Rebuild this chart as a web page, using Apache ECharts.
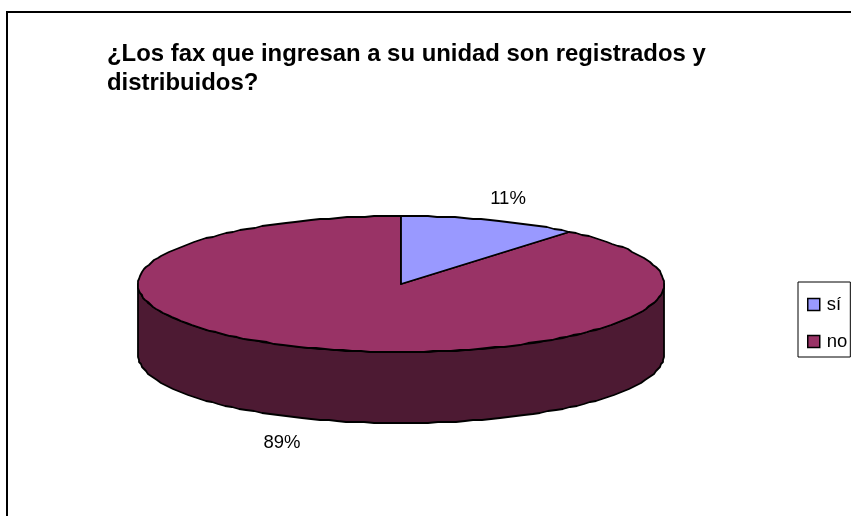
<!DOCTYPE html>
<html>
<head>
<meta charset="utf-8">
<style>html,body{margin:0;padding:0;background:#fff}#chart{width:851px;height:516px}</style>
<script src="https://cdn.jsdelivr.net/npm/echarts@6/dist/echarts.min.js"></script>
</head>
<body>
<div id="chart"></div>
<script>
const categories = ['sí', 'no'];
const shares = [11, 89];
const topColors = ['#9999ff', '#993366'];
const wallColors = ['#4d4d80', '#4d1a33'];
const chartTitle = '¿Los fax que ingresan a su unidad son registrados y\ndistribuidos?';

// Tilted disc drawn as an ellipse with a lower wall
const cx = 401, cy = 284, rx = 263, ry = 68, depth = 71;
const FONT = '"Liberation Sans", Arial, sans-serif';
const labelAnchors = [[508, 199], [282, 443]];
const total = shares.reduce((a, b) => a + b, 0);

// Rim vertices snap to whole pixels, which gives the outline its faceted look
function rimPoint(deg, drop) {
  const t = deg * Math.PI / 180;
  return [Math.round(cx + rx * Math.sin(t)), Math.round(cy - ry * Math.cos(t) + drop)];
}

function arc(from, to, drop) {
  const pts = [];
  const n = Math.max(2, Math.ceil(Math.abs(to - from) / 2));
  for (let i = 0; i <= n; i++) pts.push(rimPoint(from + (to - from) * i / n, drop));
  return pts;
}

function renderSlice(index, params, api) {
  const value = api.value(0);
  const before = shares.slice(0, index).reduce((a, b) => a + b, 0);
  const start = before / total * 360;
  const end = start + value / total * 360;
  const line = { stroke: '#000', lineWidth: 1.8, lineJoin: 'round' };
  const children = [];

  // Only the part of the rim facing the viewer (90 to 270 degrees) shows a wall
  const wallFrom = Math.max(start, 90), wallTo = Math.min(end, 270);
  if (wallTo > wallFrom) {
    children.push({
      type: 'polygon',
      shape: { points: arc(wallFrom, wallTo, 0).concat(arc(wallTo, wallFrom, depth)) },
      style: Object.assign({ fill: wallColors[index] }, line)
    });
  }
  children.push({
    type: 'polygon',
    shape: { points: [[cx, cy]].concat(arc(start, end, 0)) },
    style: Object.assign({ fill: topColors[index] }, line)
  });
  children.push({
    type: 'text',
    style: {
      x: labelAnchors[index][0], y: labelAnchors[index][1],
      text: Math.round(value / total * 100) + '%',
      fill: '#000', font: '18.5px ' + FONT, align: 'center', verticalAlign: 'middle'
    }
  });
  return { type: 'group', children };
}

const chart = echarts.init(document.getElementById('chart'), null, { renderer: 'canvas' });
chart.setOption({
  animation: false,
  backgroundColor: '#fff',
  title: {
    text: chartTitle,
    left: 107, top: 40, padding: 0,
    textStyle: { fontFamily: FONT, fontSize: 23.9, fontWeight: 'bold', color: '#000', lineHeight: 29 }
  },
  legend: {
    orient: 'vertical',
    left: 798, top: 282, padding: [13, 3, 6, 9],
    itemWidth: 12, itemHeight: 12, itemGap: 18,
    borderColor: '#000', borderWidth: 1,
    icon: 'rect',
    data: categories,
    textStyle: { fontFamily: FONT, fontSize: 18.5, color: '#000', padding: [0, 0, 0, 2] },
    itemStyle: { borderColor: '#000', borderWidth: 1.5 }
  },
  graphic: [{
    type: 'rect',
    silent: true,
    z: -1,
    shape: { x: 7, y: 12, width: 900, height: 600 },
    style: { fill: 'none', stroke: '#000', lineWidth: 2 }
  }],
  series: categories.map((name, i) => ({
    type: 'custom',
    name,
    coordinateSystem: 'none',
    itemStyle: { color: topColors[i] },
    data: [[shares[i]]],
    renderItem: (params, api) => renderSlice(i, params, api),
    // the larger slice goes first so the smaller one's outline stays on top
    z: 2 + (categories.length - i)
  }))
});
</script>
</body>
</html>
